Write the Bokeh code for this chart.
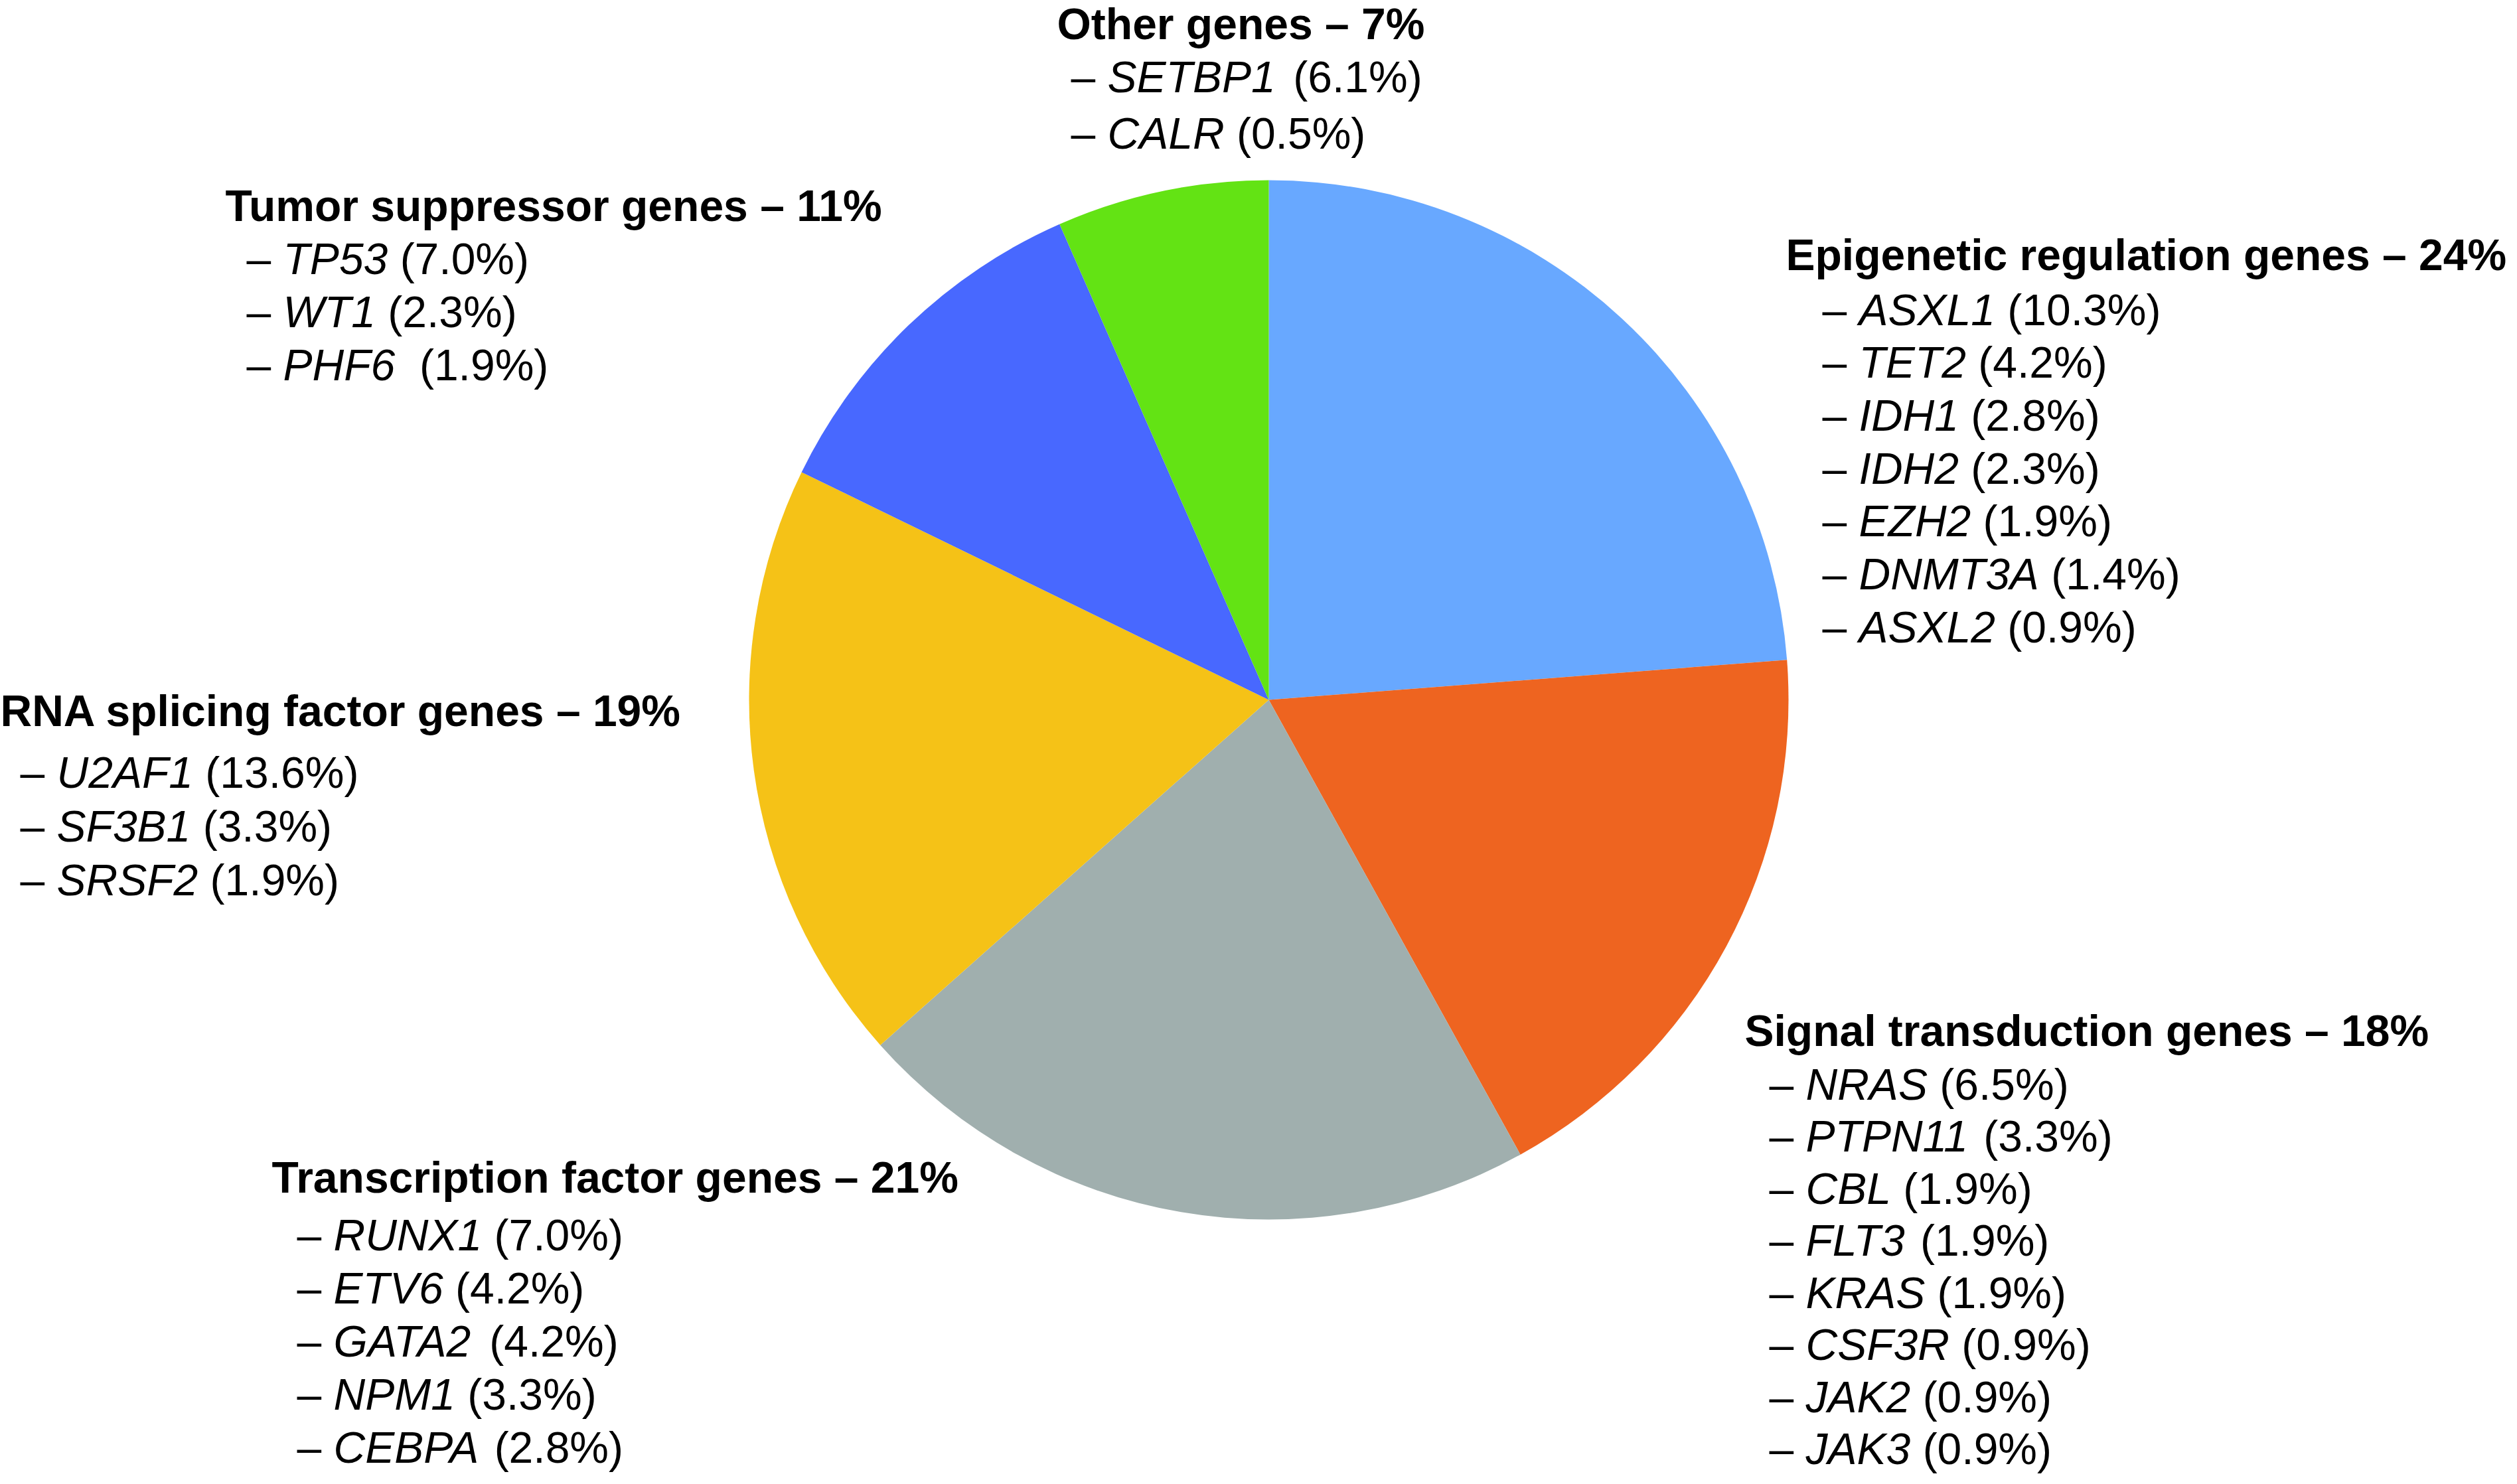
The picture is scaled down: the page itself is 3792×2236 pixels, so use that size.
import math
from bokeh.plotting import figure
from bokeh.models import ColumnDataSource, Range1d
from bokeh.core.properties import value
from bokeh.embed import file_html
from bokeh.resources import INLINE

# ---------------- data ----------------
categories = ["Epigenetic regulation genes", "Signal transduction genes",
              "Transcription factor genes", "RNA splicing factor genes",
              "Tumor suppressor genes", "Other genes"]
category_labels = ["24%", "18%", "21%", "19%", "11%", "7%"]

epigenetic_genes = ["ASXL1", "TET2", "IDH1", "IDH2", "EZH2", "DNMT3A", "ASXL2"]
epigenetic_pct = [10.3, 4.2, 2.8, 2.3, 1.9, 1.4, 0.9]
signal_genes = ["NRAS", "PTPN11", "CBL", "FLT3", "KRAS", "CSF3R", "JAK2", "JAK3"]
signal_pct = [6.5, 3.3, 1.9, 1.9, 1.9, 0.9, 0.9, 0.9]
transcription_genes = ["RUNX1", "ETV6", "GATA2", "NPM1", "CEBPA"]
transcription_pct = [7.0, 4.2, 4.2, 3.3, 2.8]
rna_genes = ["U2AF1", "SF3B1", "SRSF2"]
rna_pct = [13.6, 3.3, 1.9]
tumor_genes = ["TP53", "WT1", "PHF6"]
tumor_pct = [7.0, 2.3, 1.9]
other_genes = ["SETBP1", "CALR"]
other_pct = [6.1, 0.5]

gene_lists = [epigenetic_genes, signal_genes, transcription_genes, rna_genes, tumor_genes, other_genes]
pct_lists = [epigenetic_pct, signal_pct, transcription_pct, rna_pct, tumor_pct, other_pct]
colors = ["#68A8FF", "#EE6420", "#A0AFAE", "#F5C217", "#4868FF", "#63E314"]

# ---------------- layout (image pixel coordinates) ----------------
W_FIG, H_FIG = 3776, 2220
def X(img_x):
    return img_x - 8
def Y(img_y):
    return H_FIG + 8 - img_y

CX, CY, R = 1919, 1062, 783
FS = 66
# heading x, heading baseline, item x, first item baseline, item step
layout = [
    (2698, 391, 2753, 474, 79.7),
    (2636, 1560, 2673, 1641, 78.5),
    (417, 1781, 455, 1868, 80.2),
    (8, 1078, 38, 1171, 81.0),
    (347, 317, 379, 397, 80.0),
    (1600, 43, 1621, 123, 85.0),
]
extra_gap = {"SETBP1": 0.45, "PHF6": 1.0}   # extra spaces before the bracket

# Arial / Liberation Sans advance widths (1/1000 em); italic equals regular
AW = {' ': 278, '–': 556, '(': 333, ')': 333, '.': 278, '%': 889,
      'A': 667, 'B': 667, 'C': 722, 'D': 722, 'E': 667, 'F': 611, 'G': 778,
      'H': 722, 'I': 278, 'J': 500, 'K': 667, 'L': 556, 'M': 833, 'N': 722,
      'O': 778, 'P': 667, 'R': 722, 'S': 667, 'T': 611, 'U': 722, 'V': 667,
      'W': 944, 'X': 667, 'Y': 667, 'Z': 611}
for d in "0123456789":
    AW[d] = 556

def tw(s):
    return sum(AW.get(c, 556) for c in s) / 1000.0 * FS

# ---------------- figure ----------------
p = figure(width=W_FIG, height=H_FIG, x_range=Range1d(0, W_FIG), y_range=Range1d(0, H_FIG),
           output_backend="svg", toolbar_location=None, min_border=0,
           x_axis_type=None, y_axis_type=None, outline_line_color=None)
p.grid.visible = False
p.background_fill_color = "white"
p.border_fill_color = "white"

# wedges (clockwise from 12 o'clock)
totals = [sum(v) for v in pct_lists]
grand = sum(totals)
starts, ends = [], []
cum = 0.0
for t in totals:
    starts.append(math.pi / 2 - 2 * math.pi * (cum + t) / grand)
    ends.append(math.pi / 2 - 2 * math.pi * cum / grand)
    cum += t
wsrc = ColumnDataSource(dict(start=starts, end=ends, color=colors, cat=categories))
p.wedge(x=X(CX), y=Y(CY), radius=R, start_angle="start", end_angle="end",
        fill_color="color", line_color=None, source=wsrc)

# texts
head = dict(x=[], y=[], text=[])
reg = dict(x=[], y=[], text=[])
ital = dict(x=[], y=[], text=[])
for cat, lab, genes, pcts, (hx, hy, ix, iy, step) in zip(categories, category_labels, gene_lists, pct_lists, layout):
    head["x"].append(X(hx)); head["y"].append(Y(hy)); head["text"].append(f"{cat} – {lab}")
    for k, (g, v) in enumerate(zip(genes, pcts)):
        by = iy + k * step
        gx = ix + tw("– ")
        px = gx + tw(g + " ") + extra_gap.get(g, 0) * tw(" ")
        reg["x"].append(X(ix)); reg["y"].append(Y(by)); reg["text"].append("–")
        ital["x"].append(X(gx)); ital["y"].append(Y(by)); ital["text"].append(g)
        reg["x"].append(X(px)); reg["y"].append(Y(by)); reg["text"].append(f"({v:.1f}%)")

common = dict(text_font=value("Liberation Sans"), text_font_size=f"{FS}px",
              text_baseline="alphabetic", text_align="left", text_color="black")
p.text(x="x", y="y", text="text", source=ColumnDataSource(head), text_font_style="bold", **common)
p.text(x="x", y="y", text="text", source=ColumnDataSource(reg), text_font_style="normal", **common)
p.text(x="x", y="y", text="text", source=ColumnDataSource(ital), text_font_style="italic", **common)

open("out.html", "w").write(file_html(p, INLINE))
